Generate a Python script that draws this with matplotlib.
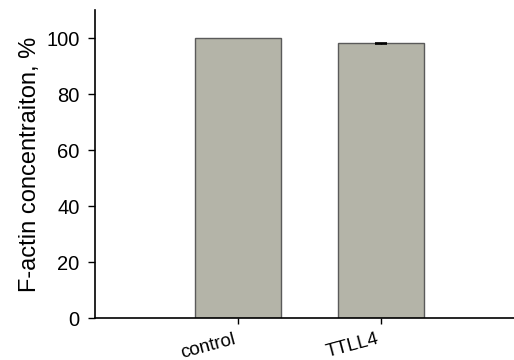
import matplotlib
matplotlib.use('Agg')
import matplotlib.pyplot as plt
import numpy as np

categories = ['control', 'TTLL4']
values = [100.0, 98.1]
errors = [np.nan, 0.2]

plt.rcParams['font.family'] = ['Liberation Sans', 'DejaVu Sans']

fig = plt.figure(figsize=(5.14, 3.6), dpi=100)
ax = fig.add_axes([95/514, 42/360, 420/514, 308/360])

x = np.arange(len(categories))
ax.bar(x, values, width=0.6, color='#b4b4a8', edgecolor='#5a5a5a', linewidth=1.0,
       yerr=errors, error_kw=dict(ecolor='black', capsize=4, capthick=1.2, elinewidth=1))

ax.set_xlim(-1.0, 1.94)
ax.set_ylim(0, 110)
ax.set_yticks([0, 20, 40, 60, 80, 100])
ax.set_xticks(x)
ax.set_xticklabels(categories, rotation=15, ha='right', fontsize=13.5)
ax.tick_params(axis='y', labelsize=14.5, direction='out', length=5, width=1, pad=6)
ax.tick_params(axis='x', direction='out', length=4, width=1, pad=5)
ax.set_ylabel('F-actin concentraiton, %', fontsize=17, labelpad=4)

for s in ['top', 'right']:
    ax.spines[s].set_visible(False)
for s in ['left', 'bottom']:
    ax.spines[s].set_linewidth(1.2)

fig.savefig('out.png', dpi=100)
